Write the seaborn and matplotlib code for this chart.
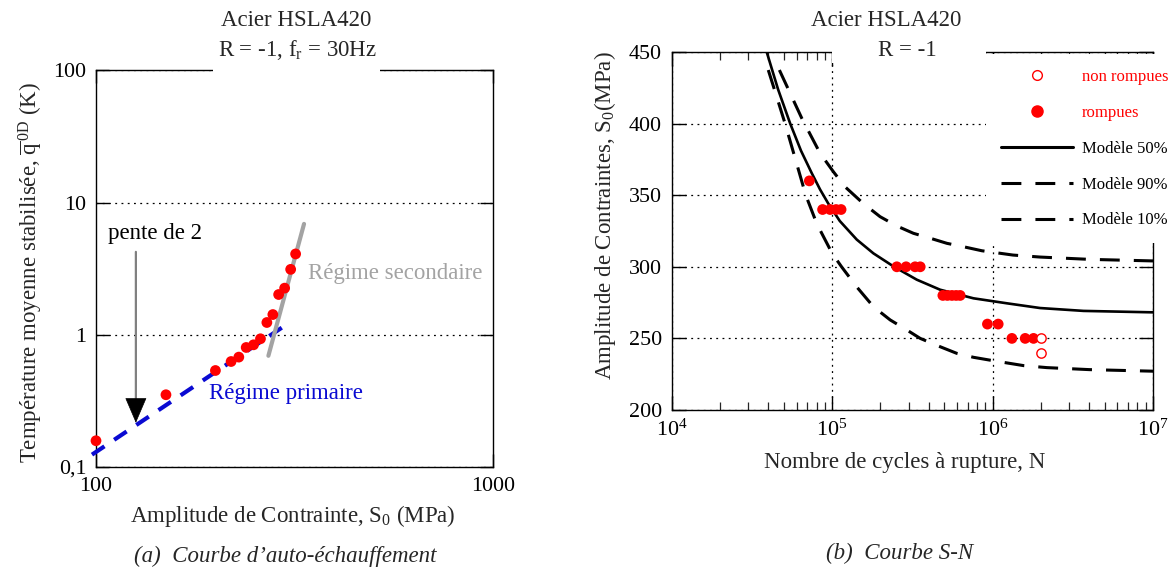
import matplotlib
matplotlib.use("Agg")
import matplotlib.pyplot as plt
import seaborn as sns
import pandas as pd
from matplotlib.lines import Line2D
from matplotlib.patches import Rectangle
from matplotlib.ticker import FixedLocator, FixedFormatter, NullLocator, LogLocator, NullFormatter

# ---------------- Data : (a) self-heating curve ----------------
stress_amp = [100, 150, 199.8, 218.8, 228.8, 238.8, 249.2, 259.4, 269.2, 278.7, 288.2, 298.4, 309, 318]
temp_rise = [0.158, 0.352, 0.537, 0.628, 0.678, 0.802, 0.840, 0.933, 1.239, 1.423, 2.017, 2.254, 3.126, 4.09]
primary_x = [97.7, 305.4]
primary_y = [0.124, 1.226]
secondary_x = [271.6, 333.9]
secondary_y = [0.694, 6.9]
arrow_x = 126
arrow_y_top = 4.24
arrow_y_base = 0.3226
arrow_y_tip = 0.216
left_yticks = [0.1, 1, 10, 100]
left_yticklabels = ["0,1", "1", "10", "100"]
left_xticks = [100, 1000]
left_xticklabels = ["100", "1000"]

# ---------------- Data : (b) S-N curve ----------------
broken_N = [72100, 87200, 97100, 105800, 113700,
            253000, 289000, 329000, 354000,
            490000, 523000, 558000, 593000, 628000,
            929000, 1084000,
            1320000, 1597000, 1800000]
broken_S = [360, 340, 340, 340, 340,
            300, 300, 300, 300,
            280, 280, 280, 280, 280,
            260, 260,
            250, 250, 250]
runout_N = [2.0e6, 2.0e6]
runout_S = [250, 240]
model50_N = [39100, 46000, 54700, 64000, 74700, 84100, 94800, 111600, 142400, 180800, 241000,
             337000, 471000, 760000, 1230000, 1980000, 3690000, 10000000]
model50_S = [450, 424, 400.2, 381, 365.3, 354, 344, 332, 319, 309.4, 300.3,
             291, 284, 278, 274.5, 271.2, 269.2, 268.2]
model90_N = [46900, 64700, 84100, 101800, 120000, 156000, 199000, 253000, 321000, 410000, 519000,
             659000, 858000, 1340000, 1980000, 4000000, 10000000]
model90_S = [437.4, 403.7, 379.3, 366.4, 356, 344.3, 335, 328.5, 323.4, 319.9, 316.4,
             314, 311.2, 308.2, 306.8, 305.2, 304.1]
model10_N = [40000, 45200, 50900, 58900, 68500, 80300, 100000, 114500, 142000, 181000, 230000,
             292000, 354000, 471000, 597000, 760000, 1000000, 1560000, 2180000, 4000000, 10000000]
model10_S = [437.4, 418.5, 400, 375.5, 350, 330, 309.4, 300, 286.1, 272.1, 262.9,
             255.9, 250, 244.2, 239.6, 236.8, 234.5, 231, 229.6, 228.2, 227.1]
right_yticks = [200, 250, 300, 350, 400, 450]
right_xticks = [1e4, 1e5, 1e6, 1e7]
right_xticklabels = ["$10^4$", "$10^5$", "$10^6$", "$10^7$"]

# ---------------- Style ----------------
sns.set_style("ticks")
plt.rcParams["font.family"] = ["Liberation Serif", "DejaVu Serif"]
plt.rcParams["mathtext.fontset"] = "custom"
plt.rcParams["mathtext.rm"] = "Liberation Serif"
plt.rcParams["mathtext.it"] = "Liberation Serif:italic"
plt.rcParams["mathtext.bf"] = "Liberation Serif:bold"
plt.rcParams["axes.edgecolor"] = "black"
plt.rcParams["axes.linewidth"] = 1.0

RED = "#ff0000"
BLUE = "#0a0ad2"
GRAY = "#a3a3a3"
TICKFS = 15.8
LABFS = 16.5
GRID_LS = (0, (1.5, 3.5))

fig = plt.figure(figsize=(11.76, 5.70), dpi=100)
axL = fig.add_axes([96 / 1176, 1 - 467 / 570, 397.3 / 1176, 396.6 / 570])
axR = fig.add_axes([671.7 / 1176, 1 - 410 / 570, 481.3 / 1176, 358 / 570])

# ================= Left panel =================
axL.set_xscale("log")
axL.set_yscale("log")
axL.set_xlim(100, 1000)
axL.set_ylim(0.1, 100)

axL.yaxis.grid(True, which="major", color="black", linestyle=GRID_LS, linewidth=0.9)
axL.xaxis.grid(False)

df_prim = pd.DataFrame({"x": primary_x, "y": primary_y})
sns.lineplot(data=df_prim, x="x", y="y", ax=axL, color=BLUE, linewidth=3.0,
             linestyle=(0, (3.6, 2.8)), estimator=None, sort=False, clip_on=False, zorder=3)
df_sec = pd.DataFrame({"x": secondary_x, "y": secondary_y})
sns.lineplot(data=df_sec, x="x", y="y", ax=axL, color=GRAY, linewidth=3.0,
             estimator=None, sort=False, zorder=3)

df_L = pd.DataFrame({"S0": stress_amp, "T": temp_rise})
sns.scatterplot(data=df_L, x="S0", y="T", ax=axL, color=RED, s=60, edgecolor="none",
                zorder=4, clip_on=False)

# arrow "pente de 2"
axL.annotate("", xy=(arrow_x, arrow_y_base), xytext=(arrow_x, arrow_y_top),
             arrowprops=dict(arrowstyle="-", color="#808080", lw=1.6, shrinkA=0, shrinkB=0))
axL.annotate("", xy=(arrow_x, arrow_y_tip), xytext=(arrow_x, arrow_y_base),
             arrowprops=dict(arrowstyle="-|>,head_length=1.05,head_width=0.45", color="black",
                             lw=0.5, shrinkA=0, shrinkB=0, mutation_scale=16))

axL.text(107.2, 5.8, "pente de 2", fontsize=LABFS, ha="left", va="center", color="black")
axL.text(342.3, 2.89, "Régime secondaire", fontsize=LABFS, ha="left", va="center", color=GRAY)
axL.text(192.8, 0.3624, "Régime primaire", fontsize=LABFS, ha="left", va="center", color=BLUE)

axL.xaxis.set_major_locator(FixedLocator(left_xticks))
axL.xaxis.set_major_formatter(FixedFormatter(left_xticklabels))
axL.yaxis.set_major_locator(FixedLocator(left_yticks))
axL.yaxis.set_major_formatter(FixedFormatter(left_yticklabels))
axL.xaxis.set_minor_locator(NullLocator())
axL.yaxis.set_minor_locator(NullLocator())
axL.tick_params(which="major", direction="in", length=9.5, width=1.0, top=True, right=True,
                labelsize=TICKFS, pad=7, colors="black")

axL.set_xlabel("Amplitude de Contrainte, S$_\\mathrm{0}$ (MPa)", fontsize=LABFS)
axL.xaxis.set_label_coords(0.495, -0.092)
axL.set_ylabel("Température moyenne stabilisée, $\\overline{\\mathrm{q}}^{\\,\\mathrm{0D}}$ (K)", fontsize=LABFS)
axL.yaxis.set_label_coords(-0.128, 0.49)

# white band behind the title over the top spine
axL.add_patch(Rectangle((0.2945, 0.97), 0.4205, 0.2, transform=axL.transAxes,
                        facecolor="white", edgecolor="none", clip_on=False, zorder=10))
fig.text(296 / 1176, 1 - 20 / 570, "Acier HSLA420", fontsize=LABFS, ha="center", va="center", zorder=11)
fig.text(297 / 1176, 1 - 50 / 570, "R = -1, f$_\\mathrm{r}$ = 30Hz", fontsize=LABFS, ha="center",
         va="center", zorder=11)

# ================= Right panel =================
axR.set_xscale("log")
axR.set_xlim(1e4, 1e7)
axR.set_ylim(200, 450)
axR.grid(True, which="major", color="black", linestyle=GRID_LS, linewidth=0.9)

df50 = pd.DataFrame({"N": model50_N, "S": model50_S})
sns.lineplot(data=df50, x="N", y="S", ax=axR, color="black", linewidth=1.9,
             estimator=None, sort=False, zorder=3)
df90 = pd.DataFrame({"N": model90_N, "S": model90_S})
sns.lineplot(data=df90, x="N", y="S", ax=axR, color="black", linewidth=2.2,
             linestyle=(0, (6.5, 4.6)), estimator=None, sort=False, zorder=3)
df10 = pd.DataFrame({"N": model10_N, "S": model10_S})
sns.lineplot(data=df10, x="N", y="S", ax=axR, color="black", linewidth=2.2,
             linestyle=(0, (6.5, 4.6)), estimator=None, sort=False, zorder=3)

df_b = pd.DataFrame({"N": broken_N, "S": broken_S})
sns.scatterplot(data=df_b, x="N", y="S", ax=axR, color=RED, s=60, edgecolor="none", zorder=4)
df_r = pd.DataFrame({"N": runout_N, "S": runout_S})
sns.scatterplot(data=df_r, x="N", y="S", ax=axR, facecolor="white", edgecolor=RED, s=45,
                linewidth=1.0, zorder=4)

axR.xaxis.set_major_locator(FixedLocator(right_xticks))
axR.xaxis.set_major_formatter(FixedFormatter(right_xticklabels))
axR.xaxis.set_minor_locator(LogLocator(base=10, subs=range(2, 10)))
axR.xaxis.set_minor_formatter(NullFormatter())
axR.yaxis.set_major_locator(FixedLocator(right_yticks))
axR.yaxis.set_minor_locator(NullLocator())
axR.tick_params(which="major", direction="in", length=10, width=1.0, top=True, right=True,
                labelsize=TICKFS, pad=7, colors="black")
axR.tick_params(which="minor", direction="in", length=6, width=0.9, top=True, right=True)

axR.set_xlabel("Nombre de cycles à rupture, N", fontsize=LABFS)
axR.xaxis.set_label_coords(0.4837, -0.118)
axR.set_ylabel("Amplitude de Contraintes, S$_\\mathrm{0}$(MPa)", fontsize=LABFS)
axR.yaxis.set_label_coords(-0.112, 0.542)

handles = [
    Line2D([], [], linestyle="none", marker="o", markersize=7, markerfacecolor="white",
           markeredgecolor=RED, markeredgewidth=1.0),
    Line2D([], [], linestyle="none", marker="o", markersize=8, markerfacecolor=RED,
           markeredgecolor=RED),
    Line2D([], [], color="black", linewidth=2.2),
    Line2D([], [], color="black", linewidth=2.2, linestyle=(0, (6.5, 4.6))),
    Line2D([], [], color="black", linewidth=2.2, linestyle=(0, (6.5, 4.6))),
]
labels = ["non rompues", "rompues", "Modèle 50%", "Modèle 90%", "Modèle 10%"]
leg = axR.legend(handles, labels, loc="upper left", bbox_to_anchor=(0.652, 0.994),
                 borderaxespad=0, fontsize=12, handlelength=4.35, handletextpad=0.55,
                 labelspacing=1.19, borderpad=0.9, frameon=True, fancybox=False,
                 facecolor="white", edgecolor="none", framealpha=1.0,
                 labelcolor=[RED, RED, "black", "black", "black"])
leg.set_zorder(20)

axR.add_patch(Rectangle((0.334, 0.968), 0.32, 0.2, transform=axR.transAxes,
                        facecolor="white", edgecolor="none", clip_on=False, zorder=10))
fig.text(886 / 1176, 1 - 20 / 570, "Acier HSLA420", fontsize=LABFS, ha="center", va="center", zorder=11)
fig.text(907 / 1176, 1 - 50 / 570, "R = -1", fontsize=LABFS, ha="center", va="center", zorder=11)

# captions
fig.text(285.5 / 1176, 1 - 556 / 570, "(a)  Courbe d’auto-échauffement", fontsize=LABFS,
         style="italic", ha="center", va="center")
fig.text(900 / 1176, 1 - 553 / 570, "(b)  Courbe S-N", fontsize=LABFS,
         style="italic", ha="center", va="center")

fig.savefig("out.png", dpi=100)
